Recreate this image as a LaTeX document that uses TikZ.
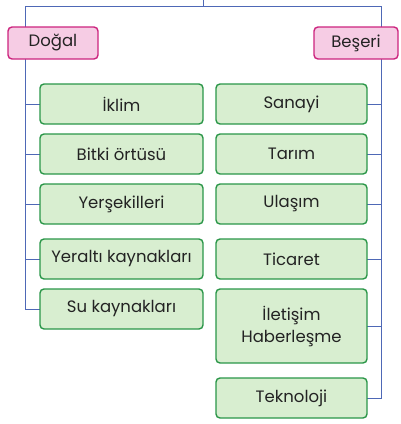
\documentclass[tikz,border=0pt]{standalone}
\usepackage{fontspec}
\setmainfont{Poppins}
\usetikzlibrary{positioning,backgrounds}
\definecolor{kpink}{RGB}{246,204,228}
\definecolor{kmagenta}{RGB}{204,36,126}
\definecolor{kgreen}{RGB}{216,238,208}
\definecolor{kdgreen}{RGB}{42,150,72}
\definecolor{kblue}{RGB}{78,104,182}
\definecolor{ktext}{RGB}{35,35,35}

\begin{document}
\begin{tikzpicture}[x=1pt,y=1pt,font=\fontsize{16.5}{22}\selectfont,text=ktext,
    every node/.style={align=center,outer sep=0pt},
    cat/.style={draw=kmagenta,fill=kpink,line width=1.4pt,rounded corners=4pt,minimum height=32pt,inner sep=0pt},
    item/.style={draw=kdgreen,fill=kgreen,line width=1.4pt,rounded corners=4pt,minimum height=40pt,inner sep=0pt},
    link/.style={draw=kblue,line width=1pt}]
    \useasboundingbox (0,0) rectangle (401,-424);
    \node[cat,minimum width=90pt,anchor=north west] (dogal) at (8,-27) {Doğal};
    \node[cat,minimum width=84pt,anchor=north east] (beseri) at (398,-27) {Beşeri};
    % left column
    \node[item,minimum width=163pt,anchor=north west] (iklim) at (40,-84) {İklim};
    \node[item,minimum width=163pt,below=10pt of iklim] (bitki) {Bitki örtüsü};
    \node[item,minimum width=163pt,below=10pt of bitki] (yersekil) {Yerşekilleri};
    \node[item,minimum width=163pt,below=15pt of yersekil] (yeralti) {Yeraltı kaynakları};
    \node[item,minimum width=163pt,below=10pt of yeralti] (su) {Su kaynakları};
    % right column
    \node[item,minimum width=151pt,anchor=north west] (sanayi) at (216,-84) {Sanayi};
    \node[item,minimum width=151pt,below=10pt of sanayi] (tarim) {Tarım};
    \node[item,minimum width=151pt,below=10pt of tarim] (ulasim) {Ulaşım};
    \node[item,minimum width=151pt,below=15pt of ulasim] (ticaret) {Ticaret};
    \node[item,minimum width=151pt,minimum height=74pt,below=10pt of ticaret] (iletisim) {İletişim\\Haberleşme};
    \node[item,minimum width=151pt,below=15pt of iletisim] (tekno) {Teknoloji};
    \coordinate (top) at (203,0);
    \coordinate (hub) at (203,-6);
    \coordinate (lrail) at (25,-6);
    \coordinate (rrail) at (381,-6);
    \begin{scope}[on background layer]
      \draw[link] (top) -- (hub);
      \draw[link] (lrail) -- (rrail);
      \draw[link] (lrail) |- (su.west);
      \draw[link] (rrail) |- (tekno.east);
      \foreach \n in {iklim,bitki,yersekil,yeralti}
        \draw[link] (lrail |- \n.west) -- (\n.west);
      \foreach \n in {sanayi,tarim,ulasim,ticaret,iletisim}
        \draw[link] (rrail |- \n.east) -- (\n.east);
    \end{scope}
\end{tikzpicture}
\end{document}
